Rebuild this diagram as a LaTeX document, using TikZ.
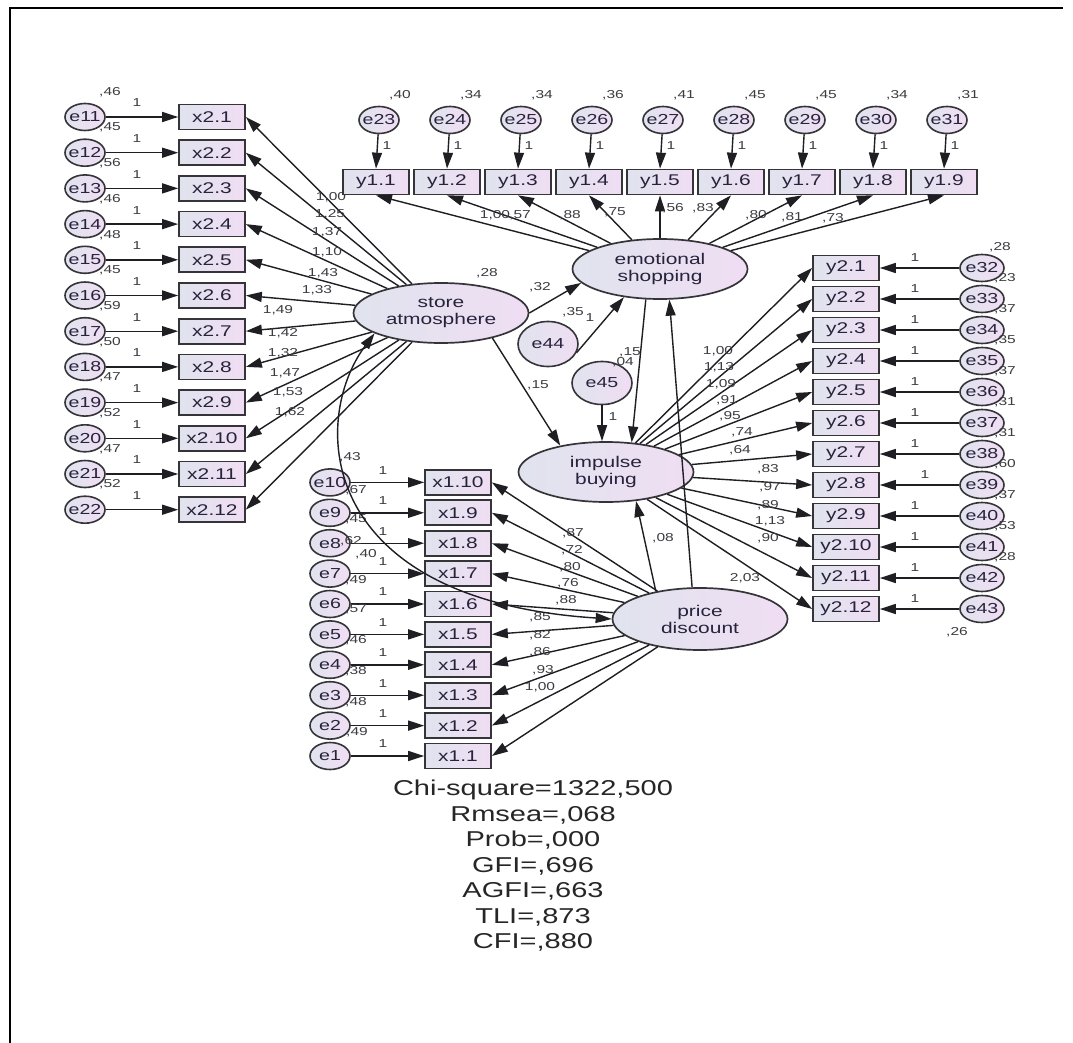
\documentclass[tikz,border=0pt]{standalone}
\usepackage{fontspec}
\setmainfont{Liberation Sans}[FakeStretch=1.35]
\usetikzlibrary{arrows.meta,shapes.geometric}
\definecolor{fl}{RGB}{224,227,238}
\definecolor{fr}{RGB}{240,222,243}
\definecolor{ln}{RGB}{30,30,35}
\definecolor{tx}{RGB}{40,35,60}
\definecolor{nm}{RGB}{60,60,65}
\tikzset{
 obs/.style={rectangle, draw=ln!90, line width=1.7pt, left color=fl, right color=fr, minimum width=66pt, minimum height=25pt, inner sep=0pt, text=tx, font=\fontsize{15.5}{15}\selectfont},
 err/.style={ellipse, draw=ln!90, line width=1.6pt, left color=fl, right color=fr, minimum width=40pt, minimum height=27pt, inner xsep=-5pt, inner ysep=0pt, text=tx, font=\fontsize{14.5}{15}\selectfont},
 lat/.style={ellipse, draw=ln!90, line width=1.7pt, left color=fl, right color=fr, minimum width=175pt, minimum height=60pt, inner sep=0pt, align=center, text=tx, font=\fontsize{15.5}{17}\selectfont},
 num/.style={inner sep=0pt, text=nm, font=\fontsize{11.5}{12}\selectfont},
 arr/.style={draw=ln, line width=1.4pt, -{Triangle[length=16pt,width=10pt]}},
 cov/.style={draw=ln, line width=1.4pt, {Triangle[length=16pt,width=10pt]}-{Triangle[length=16pt,width=10pt]}},
 stat/.style={align=center, text=black!85, font=\fontsize{21.5}{25.5}\selectfont},
}
\begin{document}
\begin{tikzpicture}[x=1pt,y=-1pt]
\useasboundingbox (0,0) rectangle (1073,1043);
\fill[white] (0,0) rectangle (1073,1043);
\draw[line width=1.3pt] (10,1043) -- (10,8) -- (1063,8);

% latent variables
\node[lat] (sa) at (441,313) {store\\atmosphere};
\node[lat] (es) at (660,269) {emotional\\shopping};
\node[lat] (ib) at (606,472) {impulse\\buying};
\node[lat, minimum height=62pt] (pd) at (700,619) {price\\discount};
\node[err, minimum width=60pt, minimum height=45pt] (e44) at (548,344) {e44};
\node[err, minimum width=60pt, minimum height=43pt] (e45) at (602,383) {e45};

% store atmosphere block (x2)
\foreach \k in {1,...,12}{
  \pgfmathsetmacro\yy{117+35.7*(\k-1)}
  \pgfmathtruncatemacro\ee{10+\k}
  \node[obs] (x2\k) at (212,\yy) {x2.\k};
  \node[err] (e\ee) at (85,\yy) {e\ee};
  \draw[arr] (e\ee) -- (x2\k);
  \node[num] at (137,\yy-14) {1};
  \draw[arr] (sa) -- (x2\k.east);
}
\foreach \k/\v in {1/46,2/45,3/56,4/46,5/48,6/45,7/59,8/50,9/47,10/52,11/47,12/52}{
  \node[num] at (110,117+35.7*\k-35.7-25) {,\v};
}
\node[num] at (331,197) {1,00};
\node[num] at (330,214) {1,25};
\node[num] at (327,232) {1,37};
\node[num] at (327,252) {1,10};
\node[num] at (323,273) {1,43};
\node[num] at (317,290) {1,33};
\node[num] at (278,310) {1,49};
\node[num] at (283,333) {1,42};
\node[num] at (283,353) {1,32};
\node[num] at (285,373) {1,47};
\node[num] at (288,392) {1,53};
\node[num] at (290,412) {1,62};

% emotional shopping block (y1)
\foreach \k in {1,...,9}{
  \pgfmathsetmacro\xx{376+71*(\k-1)}
  \pgfmathtruncatemacro\ee{22+\k}
  \node[obs] (y1\k) at (\xx,182) {y1.\k};
  \node[err] (e\ee) at (\xx+3,120) {e\ee};
  \draw[arr] (e\ee) -- (y1\k.north);
  \node[num] at (\xx+11,146) {1};
  \draw[arr] (es) -- (y1\k.south);
}
\foreach \k/\v in {1/40,2/34,3/34,4/36,5/41,6/45,7/45,8/34,9/31}{
  \node[num] at (376+71*\k-71+24,95) {,\v};
}
\node[num] at (495,215) {1,00};
\node[num] at (520,215) {,57};
\node[num] at (570,215) {,88};
\node[num] at (615,212) {,75};
\node[num] at (673,208) {,56};
\node[num] at (703,208) {,83};
\node[num] at (756,215) {,80};
\node[num] at (792,217) {,81};
\node[num] at (833,218) {,73};

% impulse buying block (y2)
\foreach \k in {1,...,12}{
  \pgfmathsetmacro\yy{268+31*(\k-1)}
  \pgfmathtruncatemacro\ee{31+\k}
  \node[obs] (y2\k) at (846,\yy) {y2.\k};
  \node[err, minimum width=44pt] (e\ee) at (982,\yy) {e\ee};
  \draw[arr] (e\ee) -- (y2\k.east);
  \draw[arr] (ib) -- (y2\k.west);
}
\foreach \k in {1,...,7,9,10,11,12}{
  \node[num] at (915,258+31*\k-31) {1};
}
\node[num] at (925,475) {1};
\node[num] at (1000,247) {,28};
\foreach \k/\v in {1/23,2/37,3/35,4/37,5/31,6/31,7/60,8/37,9/53,10/28}{
  \node[num] at (1005,278+31*\k-31) {,\v};
}
\node[num] at (957,632) {,26};
\node[num] at (718,351) {1,00};
\node[num] at (719,367) {1,13};
\node[num] at (721,384) {1,09};
\node[num] at (727,400) {,91};
\node[num] at (730,416) {,95};
\node[num] at (742,432) {,74};
\node[num] at (740,450) {,64};
\node[num] at (768,469) {,83};
\node[num] at (770,487) {,97};
\node[num] at (768,505) {,89};
\node[num] at (770,521) {1,13};
\node[num] at (768,538) {,90};
\node[num] at (745,578) {2,03};

% price discount block (x1)
\foreach \k in {1,...,10}{
  \pgfmathsetmacro\yy{756-30.4*(\k-1)}
  \node[obs] (x1\k) at (458,\yy) {x1.\k};
  \node[err] (e\k) at (330,\yy) {e\k};
  \draw[arr] (e\k) -- (x1\k);
  \node[num] at (383,\yy-12) {1};
  \draw[arr] (pd) -- (x1\k.east);
}
\node[num] at (350,457) {,43};
\node[num] at (356,490) {,67};
\node[num] at (356,519) {,45};
\node[num] at (351,541) {,62};
\node[num] at (366,554) {,40};
\node[num] at (356,580) {,49};
\node[num] at (356,609) {,57};
\node[num] at (356,640) {,46};
\node[num] at (356,671) {,38};
\node[num] at (356,702) {,48};
\node[num] at (357,732) {,49};
\node[num] at (573,533) {,87};
\node[num] at (572,550) {,72};
\node[num] at (570,567) {,80};
\node[num] at (568,583) {,76};
\node[num] at (566,600) {,88};
\node[num] at (540,617) {,85};
\node[num] at (540,635) {,82};
\node[num] at (540,652) {,86};
\node[num] at (543,670) {,93};
\node[num] at (540,687) {1,00};

% structural paths
\draw[arr] (sa.east) -- (es.190);
\draw[arr] (e44.-17) -- (es.-142);
\draw[arr] (sa.-26) -- (ib.150);
\draw[arr] (e45.south) -- (e45.south |- ib.north);
\draw[arr] (es.-115) -- (ib.49);
\draw[arr] (pd.104) -- (es.-73);
\draw[arr] (pd.148) -- (ib.-44);
\draw[cov] (sa.197) .. controls (310,420) and (315,600) .. (pd.west);

\node[num] at (487,273) {,28};
\node[num] at (540,287) {,32};
\node[num] at (573,312) {,35};
\node[num] at (590,318) {1};
\node[num] at (538,385) {,15};
\node[num] at (630,352) {,15};
\node[num] at (623,362) {,04};
\node[num] at (613,417) {1};
\node[num] at (663,538) {,08};

% fit statistics
\node[stat] (fit) at (533,866) {Chi-square=1322,500\\Rmsea=,068\\Prob=,000\\GFI=,696\\AGFI=,663\\TLI=,873\\CFI=,880};
\end{tikzpicture}
\end{document}
